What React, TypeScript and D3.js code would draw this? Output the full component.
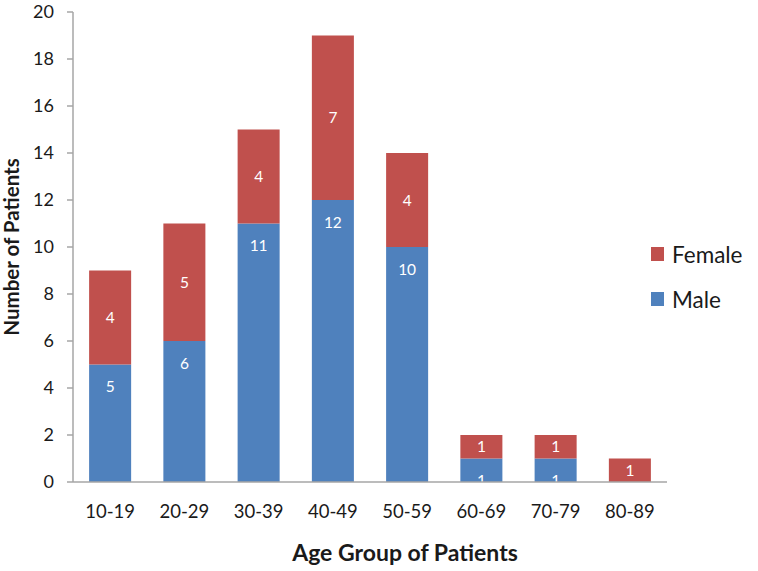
import React from "react";
import * as d3 from "d3";

const categories = ["10-19", "20-29", "30-39", "40-49", "50-59", "60-69", "70-79", "80-89"];
const male = [5, 6, 11, 12, 10, 1, 1, 0];
const female = [4, 5, 4, 7, 4, 1, 1, 1];
const yTicks = [0, 2, 4, 6, 8, 10, 12, 14, 16, 18, 20];
const seriesNames = ["Male", "Female"];
const colors = ["#4F81BD", "#C0504D"];

const W = 758, H = 571;
const FONT = "Lato, 'Open Sans', sans-serif";

export default function App() {
  const x = d3.scaleBand<string>().domain(categories).range([73, 667]).paddingInner(0.434).paddingOuter(0.217);
  const y = d3.scaleLinear().domain([0, 20]).range([482, 12]);
  const stack = d3.stack<number>().keys(["0", "1"]).value((i, k) => (k === "0" ? male[i] : female[i]));
  const series = stack(categories.map((_, i) => i));

  return (
    <svg width={W} height={H} style={{ position: "absolute", left: 0, top: 0, background: "#fff" }} fontFamily={FONT}>
      {/* y axis */}
      <line x1={73} x2={73} y1={12} y2={482} stroke="#A6A6A6" strokeWidth={1.5} />
      {yTicks.map((t) => (
        <g key={t}>
          <line x1={67} x2={73} y1={y(t)} y2={y(t)} stroke="#A6A6A6" strokeWidth={1.5} />
          <text x={54} y={y(t)} dy="0.36em" textAnchor="end" fontSize={18} fill="#1a1a1a">{t}</text>
        </g>
      ))}
      {/* bars */}
      {series.map((s, si) => (
        <g key={si} fill={colors[si]}>
          {s.map((d, i) => {
            const v = d[1] - d[0];
            if (v <= 0) return null;
            const cx = x(categories[i])! + x.bandwidth() / 2;
            const ly = si === 0 ? y(d[1]) + 22 : (y(d[0]) + y(d[1])) / 2;
            return (
              <g key={i}>
                <rect x={x(categories[i])!} width={x.bandwidth()} y={y(d[1])} height={y(d[0]) - y(d[1])} />
                <text x={cx} y={ly} dy="0.36em" textAnchor="middle" fontSize={15.5} fill="#fff">{v}</text>
              </g>
            );
          })}
        </g>
      ))}
      {/* x axis */}
      <line x1={73} x2={667} y1={482} y2={482} stroke="#A6A6A6" strokeWidth={1.5} />
      {categories.map((c) => (
        <text key={c} x={x(c)! + x.bandwidth() / 2} y={518} textAnchor="middle" fontSize={18.5} fill="#1a1a1a">{c}</text>
      ))}
      <text x={405} y={561} textAnchor="middle" fontSize={23} fontWeight="bold" fill="#1a1a1a">Age Group of Patients</text>
      <text transform="translate(19,247) rotate(-90)" textAnchor="middle" fontSize={20.5} fontWeight="bold" fill="#1a1a1a">Number of Patients</text>
      {/* legend */}
      {[1, 0].map((si, j) => (
        <g key={si} transform={`translate(651,${247 + j * 45})`}>
          <rect width={13} height={14} fill={colors[si]} />
          <text x={21} y={16} fontSize={22.5} fill="#1a1a1a">{seriesNames[si]}</text>
        </g>
      ))}
    </svg>
  );
}
